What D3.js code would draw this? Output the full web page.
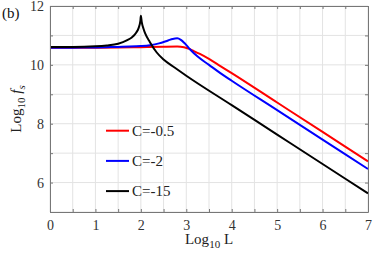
<!DOCTYPE html>
<html>
<head>
<meta charset="utf-8">
<script src="https://cdn.jsdelivr.net/npm/d3@7"></script>
<style>
  body { margin: 0; background: #fff; }
</style>
</head>
<body>
<svg id="chart" width="374" height="258"></svg>
<script>
// values: [log10 L, log10 fs]
var redPts = [[0,10.58],[0.5,10.58],[1,10.585],[1.5,10.59],[2,10.6],[2.5,10.615],[2.8,10.62],[2.95,10.6],[3.05,10.55],[3.15,10.48],[3.3,10.37],[3.5,10.2],[3.75,9.96],[4,9.72],[5,8.72],[6,7.72],[7,6.72]];
var bluePts = [[0,10.58],[0.5,10.585],[1,10.59],[1.5,10.61],[1.75,10.62],[2,10.64],[2.2,10.67],[2.4,10.73],[2.6,10.83],[2.7,10.88],[2.8,10.9],[2.88,10.85],[2.96,10.74],[3.08,10.53],[3.25,10.28],[3.5,10.0],[3.75,9.72],[4,9.46],[5,8.46],[6,7.46],[7,6.46]];
var blackPts = [[0,10.61],[0.5,10.61],[1,10.63],[1.25,10.66],[1.5,10.72],[1.7,10.84],[1.8,10.93],[1.9,11.1],[1.95,11.25],[1.99,11.5],[2.0,11.67],[2.02,11.45],[2.06,11.22],[2.1,11.05],[2.2,10.77],[2.35,10.42],[2.5,10.18],[2.75,9.9],[3,9.63],[4,8.63],[5,7.63],[6,6.63],[7,5.63]];
var seriesNames = ["C=-0.5", "C=-2", "C=-15"];
var seriesColors = ["#ff0000", "#0000ff", "#000000"];
var xTicks = [0, 0.5, 1, 1.5, 2, 2.5, 3, 3.5, 4, 4.5, 5, 5.5, 6, 6.5, 7];
var xLabels = [0, 1, 2, 3, 4, 5, 6, 7];
var yTicks = [5, 6, 7, 8, 9, 10, 11, 12];
var yLabels = [6, 8, 10, 12];

var serif = "'Times New Roman', Times, 'Liberation Serif', serif";
var svg = d3.select("#chart").attr("font-family", serif);
var margin = {top: 6, right: 6, bottom: 46, left: 50};
var width = 374 - margin.left - margin.right,
  height = 258 - margin.top - margin.bottom;

var x = d3.scaleLinear().domain([0, 7]).range([0, width]);
var y = d3.scaleLinear().domain([5, 12]).range([height, 0]);

var g = svg.append("g")
  .attr("transform", "translate(" + margin.left + "," + margin.top + ")");

// grid
g.selectAll(".vgrid").data(xTicks).enter().append("line")
  .attr("x1", function(d) { return x(d); })
  .attr("x2", function(d) { return x(d); })
  .attr("y1", 0).attr("y2", height)
  .attr("stroke", "#e3e3e3").attr("stroke-width", 1);
g.selectAll(".hgrid").data(yTicks).enter().append("line")
  .attr("y1", function(d) { return y(d); })
  .attr("y2", function(d) { return y(d); })
  .attr("x1", 0).attr("x2", width)
  .attr("stroke", "#e3e3e3").attr("stroke-width", 1);

// curves
var line = d3.line()
  .x(function(d) { return x(d[0]); })
  .y(function(d) { return y(d[1]); })
  .curve(d3.curveMonotoneX);

[redPts, bluePts, blackPts].forEach(function(pts, i) {
  g.append("path")
    .datum(pts)
    .attr("fill", "none")
    .attr("stroke", seriesColors[i])
    .attr("stroke-width", 2)
    .attr("d", line);
});

// box + inward ticks
var axisColor = "#777";
var tickLen = 3;
function addAxis(axis, tr, labels) {
  var a = g.append("g").attr("transform", tr).call(axis)
    .attr("font-family", serif);
  a.select(".domain").attr("stroke", axisColor);
  a.selectAll(".tick line").attr("stroke", axisColor);
  a.selectAll(".tick text")
    .attr("fill", "#333")
    .style("font-size", "14px")
    .text(function(d) { return labels && labels.indexOf(d) >= 0 ? d : ""; });
  return a;
}
addAxis(d3.axisBottom(x).tickValues(xTicks).tickSizeInner(-tickLen).tickSizeOuter(0).tickPadding(8),
  "translate(0," + height + ")", xLabels);
addAxis(d3.axisTop(x).tickValues(xTicks).tickSizeInner(-tickLen).tickSizeOuter(0), "translate(0,0)", []);
addAxis(d3.axisLeft(y).tickValues(yTicks).tickSizeInner(-tickLen).tickSizeOuter(0).tickPadding(6),
  "translate(0,0)", yLabels);
addAxis(d3.axisRight(y).tickValues(yTicks).tickSizeInner(-tickLen).tickSizeOuter(0), "translate(" + width + ",0)", []);

// legend (no box)
seriesNames.forEach(function(name, i) {
  var ly = 130.7 + i * 30.2 - margin.top;
  g.append("line")
    .attr("x1", 56).attr("x2", 79)
    .attr("y1", ly).attr("y2", ly)
    .attr("stroke", seriesColors[i]).attr("stroke-width", 2);
  g.append("text")
    .attr("x", 82).attr("y", ly + 5)
    .attr("fill", "#222")
    .style("font-size", "15px")
    .text(name);
});

// axis labels
var xl = svg.append("text")
  .attr("x", margin.left + width / 2).attr("y", 244)
  .attr("text-anchor", "middle").attr("fill", "#222")
  .style("font-size", "15px");
xl.append("tspan").text("Log");
xl.append("tspan").attr("dy", 4).style("font-size", "11px").text("10");
xl.append("tspan").attr("dy", -4).text(" L");

var yl = svg.append("text")
  .attr("transform", "translate(21," + (margin.top + height / 2) + ") rotate(-90)")
  .attr("text-anchor", "middle").attr("fill", "#222")
  .style("font-size", "15px");
yl.append("tspan").text("Log");
yl.append("tspan").attr("dy", 4).style("font-size", "11px").text("10");
yl.append("tspan").attr("dy", -4).style("font-style", "italic").text(" f");
yl.append("tspan").attr("dy", 4).style("font-size", "11px").style("font-style", "italic").text("s");

svg.append("text")
  .attr("x", 2).attr("y", 18)
  .attr("fill", "#111")
  .style("font-size", "15px")
  .text("(b)");
</script>
</body>
</html>
